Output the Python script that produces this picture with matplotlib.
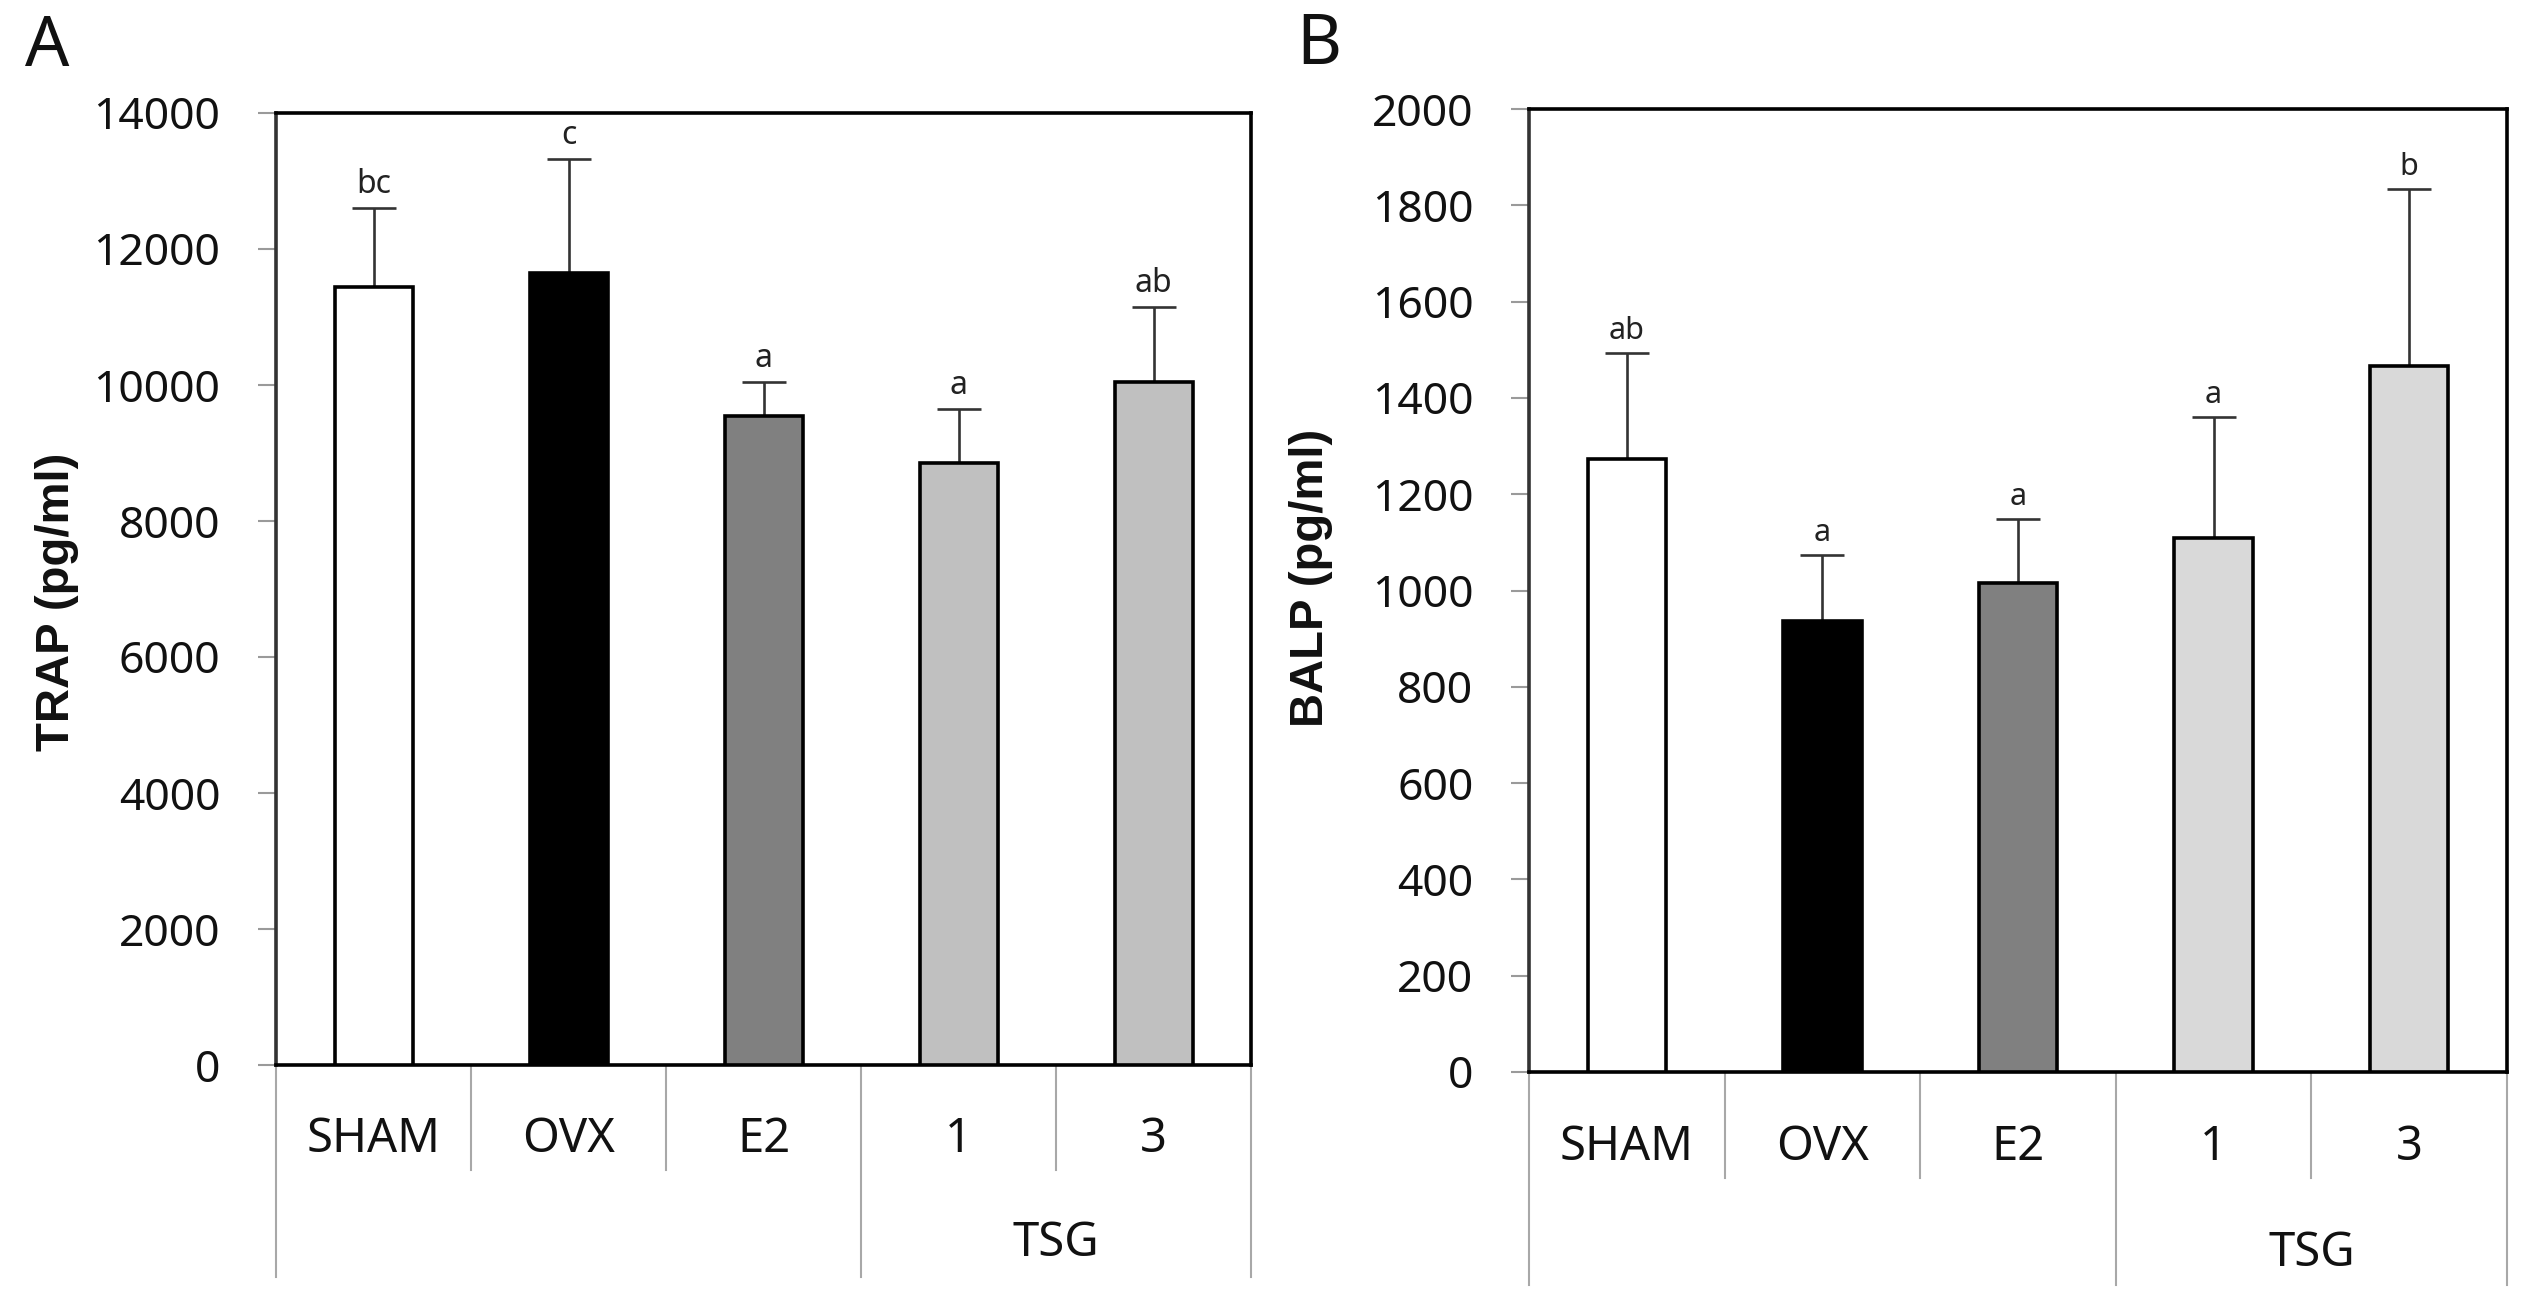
import matplotlib
matplotlib.use("Agg")
import matplotlib.pyplot as plt
import matplotlib.transforms as mtransforms

plt.rcParams['font.family'] = ['Noto Sans', 'DejaVu Sans']

# ---- data ----
groups = ["SHAM", "OVX", "E2", "1", "3"]
supergroup = "TSG"

trap_mean = [11440, 11650, 9550, 8850, 10050]
trap_err = [1170, 1670, 500, 800, 1100]
trap_letters = ["bc", "c", "a", "a", "ab"]

balp_mean = [1273, 937, 1016, 1108, 1466]
balp_err = [220, 136, 133, 252, 367]
balp_letters = ["ab", "a", "a", "a", "b"]

colors_a = ["#FFFFFF", "#000000", "#808080", "#C0C0C0", "#C0C0C0"]
colors_b = ["#FFFFFF", "#000000", "#808080", "#D9D9D9", "#D9D9D9"]

W, H = 2531, 1313
fig = plt.figure(figsize=(W / 100, H / 100), dpi=100)


def px_axes(l, t, r, b):
    return fig.add_axes([l / W, 1 - b / H, (r - l) / W, (b - t) / H])


def draw_panel(ax, means, errs, letters, colors, ymax, ystep, letter_size,
               hpx, sep_depth, outer_depth, lab_depth, tsg_depth):
    x = list(range(len(groups)))
    ax.bar(x, means, width=0.4, color=colors, edgecolor="black",
           linewidth=2.6, zorder=3)
    ax.errorbar(x, means, yerr=[[0] * len(errs), errs], fmt="none",
                ecolor="#333333", elinewidth=1.9, capsize=16, capthick=1.9,
                zorder=2)
    for xi, m, e, s in zip(x, means, errs, letters):
        ax.annotate(s, (xi, m + e), xytext=(0, 5), textcoords="offset points",
                    ha="center", va="bottom", fontsize=letter_size,
                    color="#222222")
    ax.set_xlim(-0.5, len(groups) - 0.5)
    ax.set_ylim(0, ymax)
    ax.set_yticks(list(range(0, ymax + 1, ystep)))
    ax.set_xticks([])
    ax.tick_params(axis="y", direction="out", length=13, width=1.5,
                   color="#9A9A9A", pad=27, labelsize=32, labelcolor="#111111")
    for side in ["top", "right", "bottom"]:
        ax.spines[side].set_color("black")
        ax.spines[side].set_linewidth(2.6)
    ax.spines["left"].set_color("#333333")
    ax.spines["left"].set_linewidth(2.6)

    # category table below axis
    trans = mtransforms.blended_transform_factory(ax.transData, ax.transAxes)
    f = lambda d: -d / hpx
    n = len(groups)
    bounds = [i - 0.5 for i in range(n + 1)]
    for bx in bounds:
        depth = outer_depth if bx in (-0.5, 2.5, n - 0.5) else sep_depth
        ax.plot([bx, bx], [0, f(depth)], transform=trans, color="#A8A8A8",
                linewidth=1.5, clip_on=False, zorder=1)
    for xi, g in zip(x, groups):
        ax.text(xi, f(lab_depth), g, transform=trans, ha="center",
                va="center", fontsize=34, color="#111111")
    ax.text(3.5, f(tsg_depth), supergroup, transform=trans, ha="center",
            va="center", fontsize=34, color="#111111")


axA = px_axes(276, 113, 1251, 1065)
draw_panel(axA, trap_mean, trap_err, trap_letters, colors_a, 14000, 2000, 23,
           952, 105, 212, 75, 178)
axB = px_axes(1529, 109, 2507, 1072)
draw_panel(axB, balp_mean, balp_err, balp_letters, colors_b, 2000, 200, 22,
           963, 106, 213, 76, 181)

bold_family = ['Liberation Sans', 'DejaVu Sans']
fig.text(57.5 / W, 1 - 602 / H, "TRAP (pg/ml)", rotation=90, ha="center",
         va="center", fontsize=34, fontweight="bold", family=bold_family,
         color="#111111")
fig.text(1311 / W, 1 - 578 / H, "BALP (pg/ml)", rotation=90, ha="center",
         va="center", fontsize=34, fontweight="bold", family=bold_family,
         color="#111111")

fig.text(47 / W, 1 - 48 / H, "A", ha="center", va="center", fontsize=50,
         color="#111111")
fig.text(1319 / W, 1 - 46 / H, "B", ha="center", va="center", fontsize=50,
         color="#111111")

fig.savefig("out.png", dpi=100, facecolor="white")
